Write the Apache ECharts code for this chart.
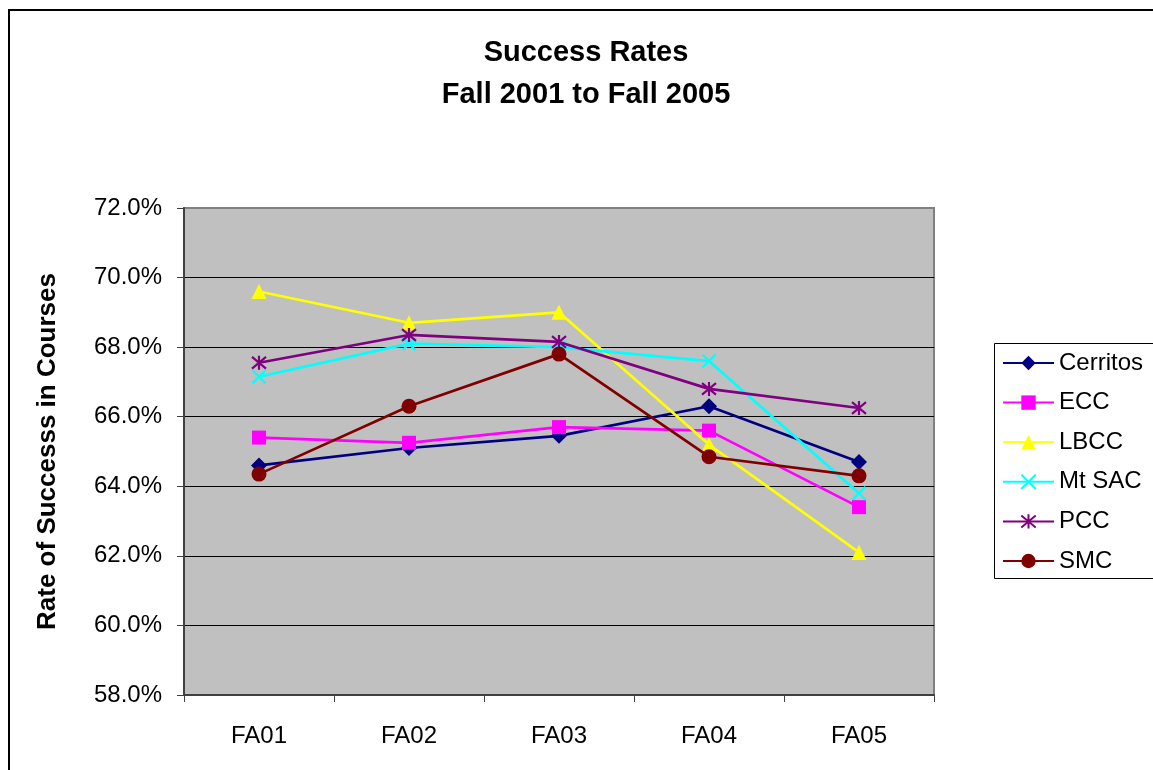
<!DOCTYPE html>
<html>
<head>
<meta charset="utf-8">
<script src="https://cdn.jsdelivr.net/npm/echarts@6/dist/echarts.min.js"></script>
<style>
html,body{margin:0;padding:0;background:#fff;}
#chart{width:1153px;height:770px;}
</style>
</head>
<body>
<div id="chart"></div>
<script>
var categories = ['FA01', 'FA02', 'FA03', 'FA04', 'FA05'];
var seriesNames = ['Cerritos', 'ECC', 'LBCC', 'Mt SAC', 'PCC', 'SMC'];
var cerritos = [64.6, 65.1, 65.45, 66.3, 64.7];
var ecc = [65.4, 65.25, 65.7, 65.6, 63.4];
var lbcc = [69.6, 68.7, 69.0, 65.2, 62.1];
var mtsac = [67.15, 68.1, 68.0, 67.6, 63.8];
var pcc = [67.55, 68.35, 68.15, 66.8, 66.25];
var smc = [64.35, 66.3, 67.8, 64.85, 64.3];
var yMin = 58, yMax = 72, yStep = 2;

var FONT = '"Liberation Sans", Arial, sans-serif';
var colors = ['#000080', '#FF00FF', '#FFFF00', '#00FFFF', '#800080', '#800000'];
var symbols = ['diamond', 'rect', 'triangle', 'path://M0,0L10,10M10,0L0,10', 'path://M0,0L10,10M10,0L0,10M5,-1L5,11', 'circle'];
var sizes = [16, 14, 15, 13, 14, 15];
var values = [cerritos, ecc, lbcc, mtsac, pcc, smc];

var series = seriesNames.map(function (name, i) {
  var isStroke = (i === 3 || i === 4);
  return {
    name: name,
    type: 'line',
    data: values[i],
    symbol: symbols[i],
    symbolSize: sizes[i],
    showSymbol: true,
    lineStyle: { color: colors[i], width: 2.7 },
    itemStyle: isStroke ? { color: colors[i], borderColor: colors[i], borderWidth: 2.2 } : { color: colors[i], borderWidth: 0 },
    emphasis: { disabled: true },
    z: 2 + i
  };
});

var chart = echarts.init(document.getElementById('chart'), null, { renderer: 'canvas' });
chart.setOption({
  animation: false,
  backgroundColor: '#ffffff',
  title: {
    text: 'Success Rates\nFall 2001 to Fall 2005',
    left: 586,
    top: 32,
    padding: 0,
    textAlign: 'center',
    textStyle: { fontFamily: FONT, fontSize: 29, fontWeight: 'bold', color: '#000', lineHeight: 42 }
  },
  legend: {
    orient: 'vertical',
    left: 994,
    top: 343,
    padding: [8, 0, 5, 8],
    borderWidth: 0,
    itemWidth: 51,
    itemHeight: 18,
    itemGap: 15.6,
    data: seriesNames,
    textStyle: { fontFamily: FONT, fontSize: 24, color: '#000', lineHeight: 24 }
  },
  grid: {
    left: 184, top: 208, width: 750, height: 487,
    show: true, backgroundColor: '#C0C0C0', borderColor: '#808080', borderWidth: 2,
    containLabel: false
  },
  xAxis: {
    type: 'category',
    data: categories,
    boundaryGap: true,
    axisLine: { lineStyle: { color: '#404040', width: 2 } },
    axisTick: { show: true, length: 7, lineStyle: { color: '#404040', width: 1 } },
    axisLabel: { fontFamily: FONT, fontSize: 24, color: '#000', margin: 29 },
    splitLine: { show: false }
  },
  yAxis: {
    type: 'value',
    min: yMin, max: yMax, interval: yStep,
    name: 'Rate of Successs in Courses',
    nameLocation: 'middle',
    nameGap: 123,
    nameRotate: 90,
    nameTextStyle: { fontFamily: FONT, fontSize: 26, fontWeight: 'bold', color: '#000' },
    axisLine: { show: true, lineStyle: { color: '#404040', width: 2 } },
    axisTick: { show: true, length: 7, lineStyle: { color: '#404040', width: 1 } },
    axisLabel: { fontFamily: FONT, fontSize: 24, color: '#000', margin: 22, formatter: function (v) { return v.toFixed(1) + '%'; } },
    splitLine: { show: true, showMaxLine: false, lineStyle: { color: '#000', width: 1 } }
  },
  graphic: [{
    type: 'rect',
    shape: { x: 9, y: 10, width: 1200, height: 800 },
    style: { fill: 'none', stroke: '#000', lineWidth: 2 },
    silent: true
  }, {
    type: 'rect',
    shape: { x: 994.5, y: 343.5, width: 200, height: 235 },
    style: { fill: 'none', stroke: '#000', lineWidth: 1 },
    silent: true
  }],
  series: series
});
</script>
</body>
</html>
